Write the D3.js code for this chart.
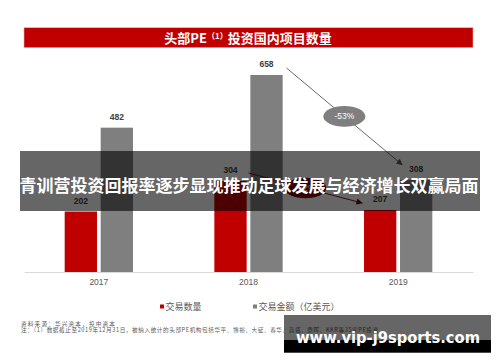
<!DOCTYPE html>
<html>
<head>
<meta charset="utf-8">
<script src="https://cdn.jsdelivr.net/npm/d3@7"></script>
<style>
  body { margin: 0; background: #fff; }
  svg { display: block; }
</style>
</head>
<body>
<svg width="500" height="362"></svg>
<script>
var years = ["2017", "2018", "2019"];
var dealCount = [202, 304, 207];
var dealAmount = [482, 658, 308];
var seriesNames = ["交易数量", "交易金额（亿美元）"];
var changeLabels = ["-32%", "-53%"];

var svg = d3.select("svg"),
    cn = "'Noto Sans CJK SC', sans-serif",
    num = "'Liberation Sans', Arial, sans-serif";

var red = "#c00000", grey = "#7f7f7f";

var x = d3.scaleBand().domain(years).range([24, 473]);
var y = d3.scaleLinear().domain([0, 700]).range([272, 62.4]);
var barW = 32.3, gap = 3.7;

function redX(yr) { return x(yr) + x.bandwidth() / 2 - gap / 2 - barW; }
function greyX(yr) { return x(yr) + x.bandwidth() / 2 + gap / 2; }

// title bar
svg.append("rect")
  .attr("x", 24).attr("y", 27.7).attr("width", 449).attr("height", 20)
  .attr("fill", red).attr("stroke", "#f2b0b0").attr("stroke-width", 0.6);
var title = svg.append("text")
  .attr("x", 248).attr("y", 42.8)
  .attr("text-anchor", "middle")
  .attr("fill", "#fff").attr("font-family", cn)
  .attr("font-size", 13).attr("font-weight", "bold");
title.append("tspan").text("头部PE");
title.append("tspan").attr("font-size", 8).attr("dy", -4).text("（1）");
title.append("tspan").attr("dy", 4).text("投资国内项目数量");

// markers
var defs = svg.append("defs");
[["arrGrey", "#595959"], ["arrRed", "#7b0000"]].forEach(function(m) {
  defs.append("marker")
    .attr("id", m[0]).attr("viewBox", "0 0 10 10")
    .attr("refX", 9).attr("refY", 5)
    .attr("markerWidth", 7).attr("markerHeight", 7)
    .attr("orient", "auto")
    .append("path").attr("d", "M0,0L10,5L0,10z").attr("fill", m[1]);
});

// axis
var axis = svg.append("g")
  .attr("transform", "translate(0,272)")
  .call(d3.axisBottom(x).tickSize(0).tickPadding(7));
axis.select(".domain").attr("stroke", "#d9d9d9").attr("stroke-width", 1);
axis.selectAll("text")
  .attr("fill", "#595959").attr("font-family", num).attr("font-size", 8.5);

// bars
svg.append("g").selectAll("rect")
  .data(years).enter().append("rect")
  .attr("x", function(d) { return redX(d); })
  .attr("y", function(d, i) { return y(dealCount[i]); })
  .attr("width", barW)
  .attr("height", function(d, i) { return y(0) - y(dealCount[i]); })
  .attr("fill", red);

svg.append("g").selectAll("rect")
  .data(years).enter().append("rect")
  .attr("x", function(d) { return greyX(d); })
  .attr("y", function(d, i) { return y(dealAmount[i]); })
  .attr("width", barW)
  .attr("height", function(d, i) { return y(0) - y(dealAmount[i]); })
  .attr("fill", grey);

// value labels
var lab = svg.append("g")
  .attr("font-family", num).attr("font-size", 8.5).attr("font-weight", "bold")
  .attr("fill", "#404040").attr("text-anchor", "middle");
lab.selectAll(".lc").data(years).enter().append("text")
  .attr("x", function(d) { return redX(d) + barW / 2; })
  .attr("y", function(d, i) { return y(dealCount[i]) - 8; })
  .text(function(d, i) { return dealCount[i]; });
lab.selectAll(".la").data(years).enter().append("text")
  .attr("x", function(d) { return greyX(d) + barW / 2; })
  .attr("y", function(d, i) { return y(dealAmount[i]) - 8; })
  .text(function(d, i) { return dealAmount[i]; });

// change arrows
function arrow(x1, y1, x2, y2, col, mk, fill, label) {
  svg.append("line")
    .attr("x1", x1).attr("y1", y1).attr("x2", x2).attr("y2", y2)
    .attr("stroke", col).attr("stroke-width", 0.9)
    .attr("marker-end", "url(#" + mk + ")");
  var cx = (x1 + x2) / 2, cy = (y1 + y2) / 2;
  svg.append("ellipse")
    .attr("cx", cx).attr("cy", cy).attr("rx", 21).attr("ry", 10.3)
    .attr("fill", fill);
  svg.append("text")
    .attr("x", cx).attr("y", cy + 3)
    .attr("text-anchor", "middle").attr("fill", "#fff")
    .attr("font-family", num).attr("font-size", 8.5)
    .text(label);
}
arrow(greyX("2018") + barW / 2 + 20, y(dealAmount[1]) - 7,
      greyX("2019") + barW / 2 - 14, y(dealAmount[2]) - 15,
      "#595959", "arrGrey", grey, changeLabels[1]);
arrow(redX("2018") + barW / 2 + 18, y(dealCount[1]) - 8,
      redX("2019") + barW / 2 - 18, y(dealCount[2]) - 7,
      "#7b0000", "arrRed", "#7b0000", changeLabels[0]);

// legend
var leg = svg.append("g").attr("font-family", cn).attr("font-size", 9).attr("fill", "#595959");
[[160, red, seriesNames[0]], [253, grey, seriesNames[1]]].forEach(function(l) {
  leg.append("rect").attr("x", l[0]).attr("y", 304.5).attr("width", 4).attr("height", 4).attr("fill", l[1]);
  leg.append("text").attr("x", l[0] + 5.5).attr("y", 310.3).text(l[2]);
});

// notes
var notes = svg.append("g").attr("font-family", cn).attr("font-size", 5.6)
  .attr("letter-spacing", 1.2).attr("fill", "#595959");
notes.append("text").attr("x", 21).attr("y", 326.2).text("资料来源：华兴资本，投中资本");
notes.append("text").attr("x", 21).attr("y", 332.2).attr("letter-spacing", 0.6)
  .text("注：（1）数据截止至2019年12月31日，被纳入统计的头部PE机构包括华平、博裕、大钲、春华、高瓴、鼎晖、KKR等35家PE投资");

// overlay banner
svg.append("rect")
  .attr("x", 20).attr("y", 151).attr("width", 460).attr("height", 60)
  .attr("fill", "#000").attr("fill-opacity", 0.6);
svg.append("text")
  .attr("x", 249).attr("y", 192)
  .attr("text-anchor", "middle").attr("fill", "#fff")
  .attr("font-family", cn).attr("font-size", 17).attr("font-weight", "bold")
  .text("青训营投资回报率逐步显现推动足球发展与经济增长双赢局面");

// watermark box
svg.append("rect")
  .attr("x", 284).attr("y", 315).attr("width", 207).attr("height", 25)
  .attr("fill", "#000").attr("fill-opacity", 0.6);
svg.append("rect")
  .attr("x", 284).attr("y", 340).attr("width", 207).attr("height", 12.7)
  .attr("fill", "#000");
svg.append("text")
  .attr("x", 296).attr("y", 343)
  .attr("fill", "#fff")
  .attr("font-family", "'DejaVu Sans', Verdana, sans-serif")
  .attr("font-size", 16).attr("font-weight", "bold")
  .attr("textLength", 184).attr("lengthAdjust", "spacingAndGlyphs")
  .text("www.vip-j9sports.com");
</script>
</body>
</html>
